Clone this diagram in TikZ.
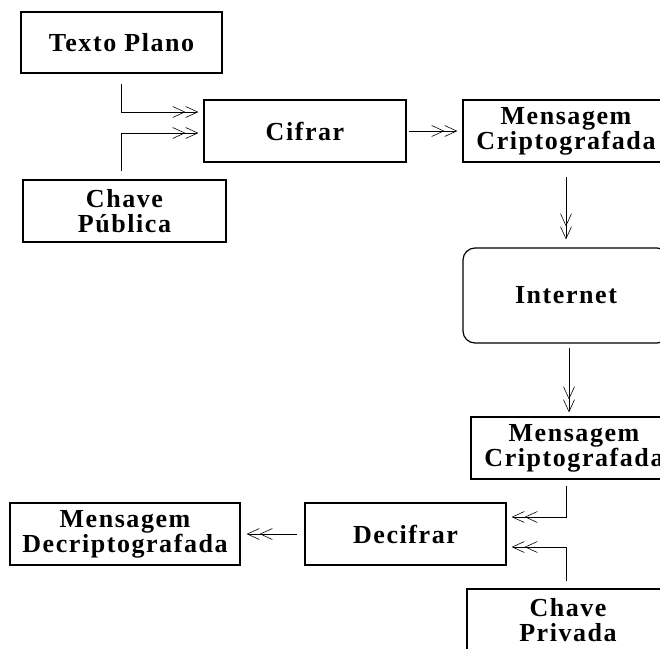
\documentclass[tikz,border=0pt]{standalone}
\usepackage{fontspec}
\setmainfont{Liberation Serif}[LetterSpace=6]
\usetikzlibrary{arrows.meta}
\begin{document}
\begin{tikzpicture}[x=1pt,y=-1pt,
  caixa/.style={draw,line width=1.2pt,inner sep=0pt,align=center,
    minimum width=202pt,minimum height=62pt,
    font=\fontsize{26}{25}\selectfont\bfseries},
  seta/.style={line width=1pt,
    -{Straight Barb[length=12pt,width=11pt,line width=.6pt]Straight Barb[length=12pt,width=11pt,line width=.6pt]}}]
\useasboundingbox (0,0) rectangle (660,648);
% cifrar
\node[caixa,minimum width=201pt,minimum height=61pt] (texto) at (121.5,42.5) {Texto Plano};
\node[caixa] (cifrar) at (305,131) {Cifrar};
\node[caixa,minimum width=203pt] (chavepub) at (124.5,211) {Chave\\Pública};
\node[caixa,minimum width=206pt] (msgcripto) at (566,131) {Mensagem\\Criptografada};
\node[caixa,minimum width=206pt,minimum height=95pt,rounded corners=12pt] (internet) at (566,295.5) {Internet};
% decifrar
\node[caixa,minimum width=206pt] (msgcripto2) at (574,448) {Mensagem\\Criptografada};
\node[caixa,minimum width=201pt] (decifrar) at (405.5,534) {Decifrar};
\node[caixa,minimum width=230pt] (msgdecripto) at (125,534) {Mensagem\\Decriptografada};
\node[caixa] (chavepriv) at (568,620) {Chave\\Privada};
\draw[seta,shorten <=10pt,shorten >=5pt] (texto.south) |- ([yshift=19pt]cifrar.west);
\draw[seta,shorten <=8pt,shorten >=5pt] ([xshift=-3pt]chavepub.north) |- ([yshift=-2pt]cifrar.west);
\draw[seta,shorten <=2pt,shorten >=5pt] (cifrar) -- (msgcripto);
\draw[seta,shorten <=14pt,shorten >=8pt] (msgcripto.south) -- (internet.north);
\draw[seta,shorten <=4pt,shorten >=4pt] ([xshift=3pt]internet.south) -- ([xshift=3pt]internet.south |- msgcripto2.north);
\draw[seta,shorten <=6pt,shorten >=5pt] ([xshift=-8pt]msgcripto2.south) |- ([yshift=17pt]decifrar.east);
\draw[seta,shorten <=7pt,shorten >=5pt] ([xshift=-2pt]chavepriv.north) |- ([yshift=-13pt]decifrar.east);
\draw[seta,shorten <=7pt,shorten >=6pt] (decifrar) -- (msgdecripto);
\end{tikzpicture}
\end{document}
